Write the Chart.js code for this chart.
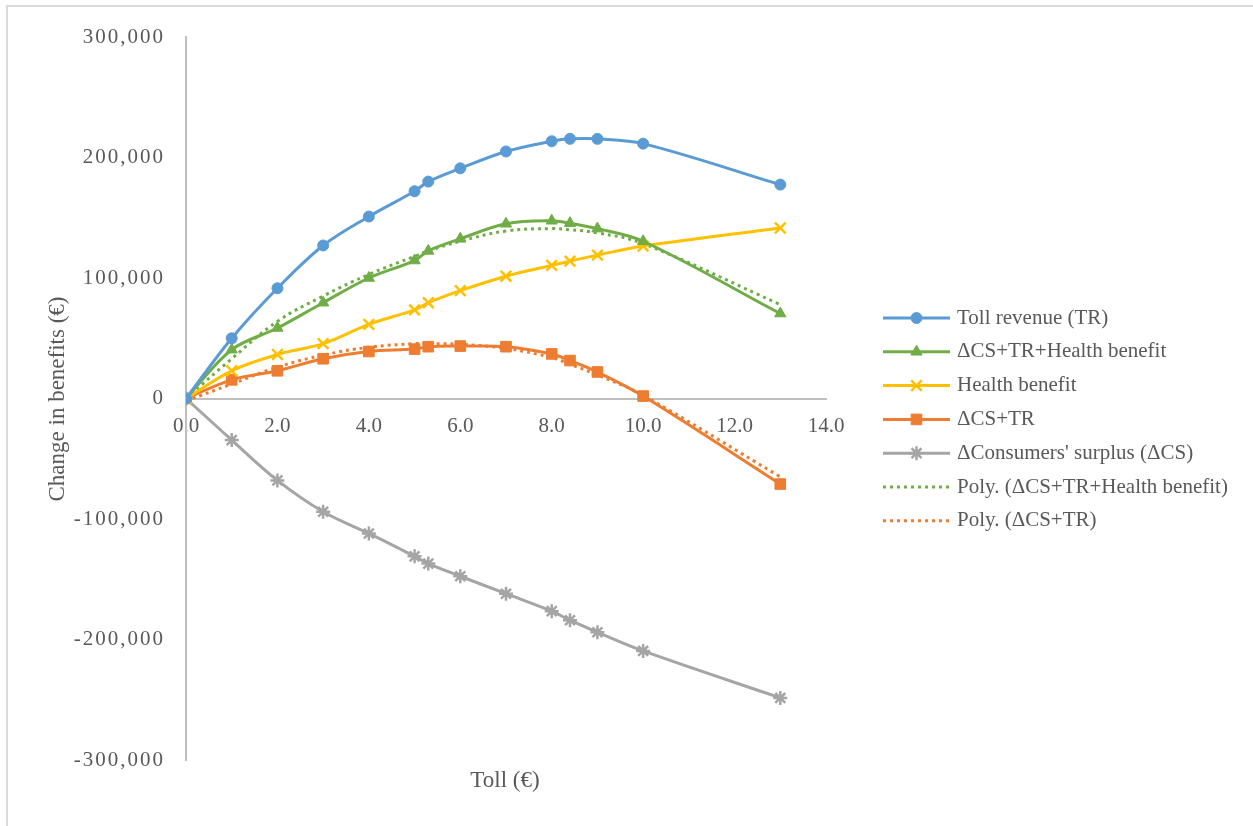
<!DOCTYPE html>
<html>
<head>
<meta charset="utf-8">
<script src="https://cdn.jsdelivr.net/npm/chart.js@4.4.0/dist/chart.umd.min.js"></script>
<style>
html,body{margin:0;padding:0;background:#fff;}
#wrap{position:relative;width:1253px;height:826px;overflow:hidden;}
canvas{display:block;}
</style>
</head>
<body>
<div id="wrap"><canvas id="c" width="1253" height="826"></canvas></div>
<script>
// ---- data ----
const tolls = [0, 1, 2, 3, 4, 5, 5.3, 6, 7, 8, 8.4, 9, 10, 13];
const tollRevenue   = [0, 50000, 91500, 127000, 151000, 172000, 180000, 191000, 205000, 213500, 215500, 215500, 211500, 177500];
const csTrHealth    = [0, 40500, 58500, 79500, 100000, 114500, 122500, 132500, 145000, 147500, 145500, 141000, 130500, 70500];
const healthBenefit = [0, 23000, 36500, 45500, 61500, 73500, 79500, 89500, 101500, 110500, 114000, 119000, 126500, 141500];
const csTr          = [0, 15500, 23000, 33000, 39000, 41000, 43000, 43500, 43000, 37000, 31500, 22000, 2000, -71000];
const consumerSurplus = [0, -34500, -68000, -94000, -112000, -131000, -137000, -147500, -162000, -176500, -184000, -194000, -209500, -248500];
const polyCsTrHealth = [0, 33000, 64000, 85000, 103000, 118000, 122500, 130500, 139000, 141000, 140000, 137500, 128500, 78000];
const polyCsTr       = [-2000, 12000, 26000, 36000, 42500, 45500, 45500, 45000, 41500, 34000, 28500, 19500, 2500, -65000];

const seriesNames = [
  'Toll revenue (TR)',
  '\u0394CS+TR+Health benefit',
  'Health benefit',
  '\u0394CS+TR',
  '\u0394Consumers\' surplus (\u0394CS)',
  'Poly. (\u0394CS+TR+Health benefit)',
  'Poly. (\u0394CS+TR)'
];
const xTickLabels = ['0.0', '2.0', '4.0', '6.0', '8.0', '10.0', '12.0', '14.0'];
const yTickLabels = ['-300,000', '-200,000', '-100,000', '0', '100,000', '200,000', '300,000'];
const xTitle = 'Toll (\u20AC)';
const yTitle = 'Change in benefits (\u20AC)';

// ---- build chart ----
const pts = (arr) => tolls.map((t, i) => ({x: t, y: arr[i]}));
const FONT = 'Liberation Serif';
const TXT = '#595959';

// linear scale whose tick labels are drawn with a little letter spacing
class SpacedLinearScale extends Chart.LinearScale {
  drawLabels(area) {
    const ctx = this.ctx;
    const prev = ctx.letterSpacing;
    ctx.letterSpacing = '2px';
    super.drawLabels(area);
    ctx.letterSpacing = prev || '0px';
  }
}
SpacedLinearScale.id = 'spacedLinear';
SpacedLinearScale.defaults = Chart.LinearScale.defaults;
Chart.register(SpacedLinearScale);

function solid(label, arr, color, style, radius, bw) {
  return {
    label, data: pts(arr), borderColor: color, backgroundColor: color,
    borderWidth: 3, tension: 0.35, pointStyle: style, pointRadius: radius,
    pointHoverRadius: radius, pointBorderWidth: bw, pointBackgroundColor: color,
    pointBorderColor: color, fill: false
  };
}
function dotted(label, arr, color) {
  return {
    label, data: pts(arr), borderColor: color, backgroundColor: color,
    borderWidth: 3, borderDash: [3, 4], tension: 0.4, pointRadius: 0,
    pointHoverRadius: 0, fill: false
  };
}

const datasets = [
  solid(seriesNames[0], tollRevenue, '#5B9BD5', 'circle', 5.5, 1),
  solid(seriesNames[1], csTrHealth, '#70AD47', 'triangle', 6.5, 1),
  solid(seriesNames[2], healthBenefit, '#FFC000', 'crossRot', 7.5, 2.5),
  solid(seriesNames[3], csTr, '#ED7D31', 'rect', 7.5, 1),
  solid(seriesNames[4], consumerSurplus, '#A5A5A5', 'star', 7, 2.5),
  dotted(seriesNames[5], polyCsTrHealth, '#70AD47'),
  dotted(seriesNames[6], polyCsTr, '#ED7D31')
];

const decorPlugin = {
  id: 'decor',
  beforeDraw(chart) {
    const ctx = chart.ctx;
    ctx.save();
    ctx.strokeStyle = '#D9D9D9';
    ctx.lineWidth = 2;
    ctx.beginPath();
    ctx.moveTo(7, 900);
    ctx.lineTo(7, 6);
    ctx.lineTo(1400, 6);
    ctx.stroke();
    ctx.restore();
  },
  afterDraw(chart) {
    const ctx = chart.ctx;
    ctx.save();
    // axis titles
    ctx.fillStyle = TXT;
    ctx.font = '23px "' + FONT + '"';
    ctx.textAlign = 'center';
    ctx.textBaseline = 'middle';
    ctx.fillText(xTitle, 505, 781);
    ctx.save();
    ctx.translate(58, 399);
    ctx.rotate(-Math.PI / 2);
    ctx.fillText(yTitle, 0, 0);
    ctx.restore();
    // legend
    const x0 = 883, x1 = 950, tx = 957, y0 = 318, dy = 33.8;
    chart.data.datasets.forEach((ds, i) => {
      const y = y0 + i * dy;
      ctx.save();
      ctx.strokeStyle = ds.borderColor;
      ctx.lineWidth = 3;
      ctx.setLineDash(ds.borderDash || []);
      ctx.beginPath();
      ctx.moveTo(x0, y);
      ctx.lineTo(x1, y);
      ctx.stroke();
      ctx.setLineDash([]);
      if (ds.pointRadius) {
        ctx.fillStyle = ds.pointBackgroundColor;
        ctx.strokeStyle = ds.pointBorderColor;
        ctx.lineWidth = ds.pointBorderWidth;
        Chart.helpers.drawPoint(ctx, {pointStyle: ds.pointStyle, radius: ds.pointRadius, rotation: 0, borderWidth: ds.pointBorderWidth}, (x0 + x1) / 2, y);
      }
      ctx.restore();
      ctx.fillStyle = TXT;
      ctx.font = '21px "' + FONT + '"';
      ctx.textAlign = 'left';
      ctx.textBaseline = 'middle';
      ctx.fillText(ds.label, tx, y);
    });
    ctx.restore();
  }
};

new Chart(document.getElementById('c'), {
  type: 'line',
  data: {datasets},
  plugins: [decorPlugin],
  options: {
    responsive: false,
    animation: false,
    devicePixelRatio: 1,
    layout: {padding: {left: 0, top: 37, right: 427, bottom: 66}},
    plugins: {legend: {display: false}, tooltip: {enabled: false}, title: {display: false}},
    scales: {
      x: {
        type: 'linear', min: 0, max: 14, position: {y: 0},
        grid: {display: false, drawTicks: false},
        border: {display: true, color: '#BFBFBF', width: 2},
        ticks: {
          stepSize: 2, autoSkip: false, maxRotation: 0, padding: 15,
          color: TXT, font: {family: FONT, size: 21},
          callback: (v, i) => xTickLabels[i]
        }
      },
      y: {
        type: 'spacedLinear', min: -300000, max: 300000, position: 'left',
        afterFit: (s) => { s.width = 186; },
        grid: {display: false, drawTicks: false},
        border: {display: true, color: '#BFBFBF', width: 2},
        ticks: {
          stepSize: 100000, padding: 21,
          color: TXT, font: {family: FONT, size: 21},
          callback: (v, i) => yTickLabels[i]
        }
      }
    }
  }
});
</script>
</body>
</html>
